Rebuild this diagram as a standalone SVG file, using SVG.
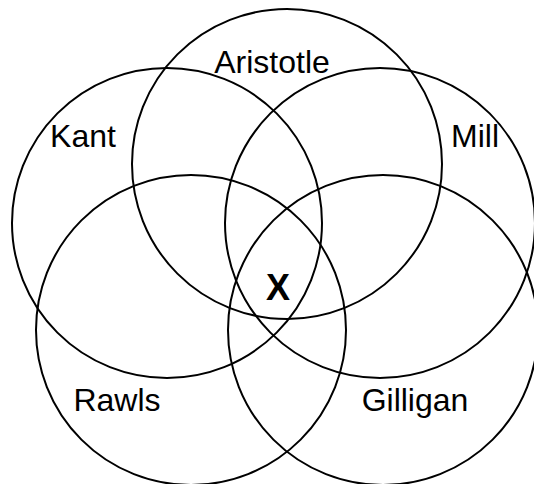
<svg xmlns="http://www.w3.org/2000/svg" width="534" height="484" viewBox="0 0 534 484">
<style>
.c{fill:none;stroke:#000;stroke-width:2}
.t{font-family:"Liberation Sans",Arial,sans-serif;font-size:32px;fill:#000;text-anchor:middle}
.x{font-family:"Liberation Sans",Arial,sans-serif;font-size:36px;font-weight:bold;fill:#000;text-anchor:middle}
</style>
<rect width="534" height="484" fill="#fff"/>
<g id="connectors"></g>
<g id="aristotle"><circle class="c" cx="287" cy="164" r="155"/><text class="t" x="272" y="73">Aristotle</text></g>
<g id="kant"><circle class="c" cx="167" cy="223" r="155"/><text class="t" x="83" y="147">Kant</text></g>
<g id="mill"><circle class="c" cx="380" cy="223" r="155"/><text class="t" x="475" y="147">Mill</text></g>
<g id="rawls"><circle class="c" cx="191" cy="330" r="155"/><text class="t" x="117" y="411">Rawls</text></g>
<g id="gilligan"><circle class="c" cx="383" cy="330" r="155"/><text class="t" x="415" y="411">Gilligan</text></g>
<g id="center"><text class="x" x="278" y="300">X</text></g>
</svg>
